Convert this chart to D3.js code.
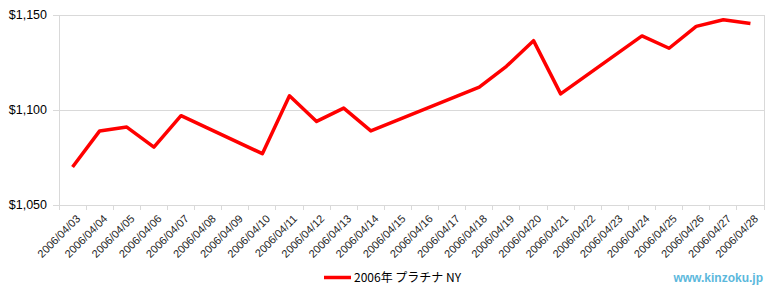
<!DOCTYPE html>
<html><head><meta charset="utf-8">
<script src="https://cdn.jsdelivr.net/npm/d3@7"></script>
<style>body{margin:0;background:#fff}svg{display:block}</style>
</head><body>
<script>
const categories = ["2006/04/03","2006/04/04","2006/04/05","2006/04/06","2006/04/07","2006/04/08","2006/04/09","2006/04/10","2006/04/11","2006/04/12","2006/04/13","2006/04/14","2006/04/15","2006/04/16","2006/04/17","2006/04/18","2006/04/19","2006/04/20","2006/04/21","2006/04/22","2006/04/23","2006/04/24","2006/04/25","2006/04/26","2006/04/27","2006/04/28"];
const values = [1070,1089,1091,1080.5,1097,null,null,1077,1107.5,1094,1101,1089,null,null,null,1112,1123,1136.5,1108.5,null,null,1139,1132.5,1144,1147.5,1145.5];
const seriesName = "2006年 プラチナ NY";
const yTicks = [1050,1100,1150];

const W=780,H=300;
const m={l:59,r:16,t:15,b:95};
const svg=d3.select("body").append("svg").attr("width",W).attr("height",H);
const x=d3.scaleBand().domain(categories).range([m.l,W-m.r]).padding(0);
const y=d3.scaleLinear().domain([1050,1150]).range([H-m.b,m.t]);
const font="'Liberation Sans', Arial, sans-serif";

// gridlines
svg.append("g").selectAll("line").data(yTicks).join("line")
  .attr("x1",m.l-6).attr("x2",W-m.r).attr("y1",d=>y(d)).attr("y2",d=>y(d))
  .attr("stroke","#d9d9d9").attr("stroke-width",1).attr("shape-rendering","crispEdges");
// left axis line & right border
svg.append("line").attr("x1",m.l).attr("x2",m.l).attr("y1",m.t).attr("y2",H-m.b)
  .attr("stroke","#d9d9d9").attr("shape-rendering","crispEdges");
svg.append("line").attr("x1",W-m.r).attr("x2",W-m.r).attr("y1",m.t).attr("y2",H-m.b+5)
  .attr("stroke","#d9d9d9").attr("shape-rendering","crispEdges");

// y labels
svg.append("g").selectAll("text").data(yTicks).join("text")
  .attr("x",m.l-12).attr("y",d=>y(d)).attr("dy","0.35em").attr("text-anchor","end")
  .attr("font-family",font).attr("font-size",12.5).attr("fill","#000")
  .text(d=>"$"+d3.format(",")(d));

// x ticks at band boundaries
svg.append("g").selectAll("line").data(categories).join("line")
  .attr("x1",d=>x(d)).attr("x2",d=>x(d)).attr("y1",H-m.b).attr("y2",H-m.b+5)
  .attr("stroke","#d9d9d9").attr("shape-rendering","crispEdges");

// x labels
svg.append("g").selectAll("text").data(categories).join("text")
  .attr("transform",d=>`translate(${x(d)+x.bandwidth()/2+3},${H-m.b+9}) rotate(-45)`)
  .attr("text-anchor","end").attr("dy","0.7em")
  .attr("font-family",font).attr("font-size",11).attr("fill","#222")
  .text(d=>d);

// line
const pts=categories.map((c,i)=>({c,v:values[i]})).filter(d=>d.v!=null);
const line=d3.line().x(d=>x(d.c)+x.bandwidth()/2).y(d=>y(d.v));
svg.append("path").datum(pts).attr("d",line).attr("fill","none")
  .attr("stroke","#ff0000").attr("stroke-width",3.5).attr("stroke-linejoin","round");

// legend
svg.append("line").attr("x1",324).attr("x2",351).attr("y1",277.5).attr("y2",277.5)
  .attr("stroke","#ff0000").attr("stroke-width",3.5);
svg.append("text").attr("x",354).attr("y",277.5).attr("dy","0.35em")
  .attr("font-family","'Noto Sans CJK JP', "+font).attr("font-size",12).attr("fill","#000")
  .text(seriesName);

// watermark
svg.append("text").attr("x",763).attr("y",278).attr("dy","0.35em").attr("text-anchor","end")
  .attr("font-family",font).attr("font-size",12).attr("font-weight","bold").attr("fill","#5bb8dc")
  .text("www.kinzoku.jp");
</script>
</body></html>
